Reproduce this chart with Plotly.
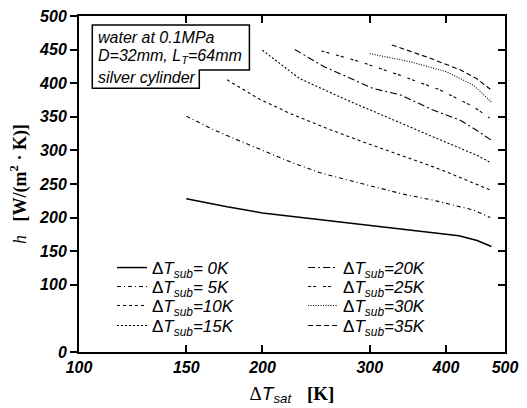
import plotly.graph_objects as go

# ---- data ----
x_0K = [150, 175, 200, 250, 300, 350, 400, 420, 450, 475]
h_0K = [228, 216, 207, 197, 188, 181, 176, 173, 166, 157]
x_5K = [150, 166, 175, 200, 222, 250, 300, 340, 381, 420, 445, 473]
h_5K = [351, 331, 322, 300, 283, 266, 248, 235, 226, 217, 211, 200]
x_10K = [175, 198, 222, 258, 300, 332, 370, 406, 440, 473]
h_10K = [405, 376, 355, 331, 309, 295, 280, 266, 253, 241]
x_15K = [200, 222, 230, 275, 328, 386, 449, 473]
h_15K = [449, 418, 407, 375, 345, 318, 293, 282]
x_20K = [226, 252, 304, 336, 381, 422, 449, 475]
h_20K = [450, 425, 392, 383, 360, 345, 330, 315]
x_25K = [250, 289, 336, 391, 444, 472]
h_25K = [448, 432, 412, 390, 365, 348]
x_30K = [300, 349, 401, 444, 475]
h_30K = [444, 432, 417, 397, 372]
x_35K = [326, 372, 422, 449, 473]
h_35K = [457, 439, 420, 407, 391]

subcool = ["0K", "5K", "10K", "15K", "20K", "25K", "30K", "35K"]
xs = [x_0K, x_5K, x_10K, x_15K, x_20K, x_25K, x_30K, x_35K]
hs = [h_0K, h_5K, h_10K, h_15K, h_20K, h_25K, h_30K, h_35K]

x_ticks = [100, 150, 200, 300, 400, 500]
y_ticks = [0, 100, 150, 200, 250, 300, 350, 400, 450, 500]

dashes = ["solid", "4px,3px,1px,3px", "3px,3px", "2px,2px",
          "7px,3px,2px,3px", "3px,2px,3px,7px", "1px,1.5px", "5px,3px"]
widths = [1.5, 1.1, 1.1, 1.1, 1.1, 1.1, 1.1, 1.1]

# legend placement (paper coords): two columns, four rows
leg_x = [0.0775, 0.526]
leg_y = [0.25, 0.1935, 0.137, 0.0774]

fig = go.Figure()
legfont = dict(family="Liberation Sans, Arial", size=17, color="black")
for i, (lab, x, h) in enumerate(zip(subcool, xs, hs)):
    sp = " " if len(lab) == 2 else ""
    lname = "legend" if i == 0 else "legend%d" % (i + 1)
    fig.add_trace(go.Scatter(
        x=x, y=h, mode="lines",
        line=dict(color="black", width=widths[i], dash=dashes[i]),
        name="Δ<i>T<sub>sub</sub>=" + sp + lab + "</i>",
        legend=lname,
    ))
    fig.update_layout({lname: dict(x=leg_x[i // 4], y=leg_y[i % 4],
                                   xanchor="left", yanchor="middle",
                                   bgcolor="rgba(0,0,0,0)", font=legfont)})
# dummy trace for right-hand axis
fig.add_trace(go.Scatter(x=[None], y=[None], yaxis="y2", showlegend=False,
                         hoverinfo="skip"))

tickfont = dict(family="Liberation Sans, Arial", size=16, color="black",
                weight="bold", style="italic")

fig.update_layout(
    width=527, height=408,
    margin=dict(l=79, r=22, t=16, b=56, autoexpand=False),
    paper_bgcolor="white", plot_bgcolor="white",
    xaxis=dict(type="log", range=[2, 2.69897], tickvals=x_ticks,
               ticktext=[str(v) for v in x_ticks], automargin=False,
               ticks="inside", ticklen=7, tickwidth=1.5, tickcolor="black",
               showline=True, linecolor="black", linewidth=2, mirror="ticks",
               showgrid=False, zeroline=False, tickfont=tickfont,
               title=dict(text="<span style='font-family:Liberation Serif'>Δ</span><i>T<sub>sat</sub></i>"
                               "   <span style='font-family:Liberation Serif'><b>[K]</b></span>",
                          font=dict(family="Liberation Sans, Arial", size=19, color="black"),
                          standoff=11)),
    yaxis=dict(range=[0, 500], tickvals=y_ticks, automargin=False,
               ticktext=[str(v) for v in y_ticks],
               ticks="outside", ticklen=7, tickwidth=1.5, tickcolor="black",
               showline=True, linecolor="black", linewidth=2, mirror=True,
               showgrid=False, zeroline=False, tickfont=tickfont,
               title=dict(text="<i>h</i>   <b>[W/(m<sup>2</sup> · K)]</b>",
                          font=dict(family="Liberation Serif", size=18, color="black"),
                          standoff=8)),
    yaxis2=dict(range=[0, 500], tickvals=y_ticks, overlaying="y", side="right",
                ticks="inside", ticklen=7, tickwidth=1.5, tickcolor="black",
                showticklabels=False, showgrid=False, zeroline=False,
                showline=False, automargin=False),
    showlegend=True,
)

# info box (stepped outline)
fig.add_shape(type="path",
              path="M 0.0312,0.9732 L 0.4,0.9732 L 0.4,0.8393 L 0.2824,0.8393 "
                   "L 0.2824,0.7848 L 0.0312,0.7848 Z",
              xref="paper", yref="paper", line=dict(color="black", width=1.5),
              fillcolor="white")
info_lines = ["water at 0.1MPa", "D=32mm, L<sub>T</sub>=64mm", "silver cylinder"]
info_y = [0.9375, 0.878, 0.8155]
for t, yy in zip(info_lines, info_y):
    fig.add_annotation(x=0.04, y=yy, xref="paper", yref="paper", text="<i>" + t + "</i>",
                       showarrow=False, xanchor="left", yanchor="middle",
                       font=dict(family="Liberation Sans, Arial", size=16, color="black"))

fig.write_html("out.html", config={"displayModeBar": False},
               post_script="document.body.style.margin='0';document.body.style.overflow='hidden';")
